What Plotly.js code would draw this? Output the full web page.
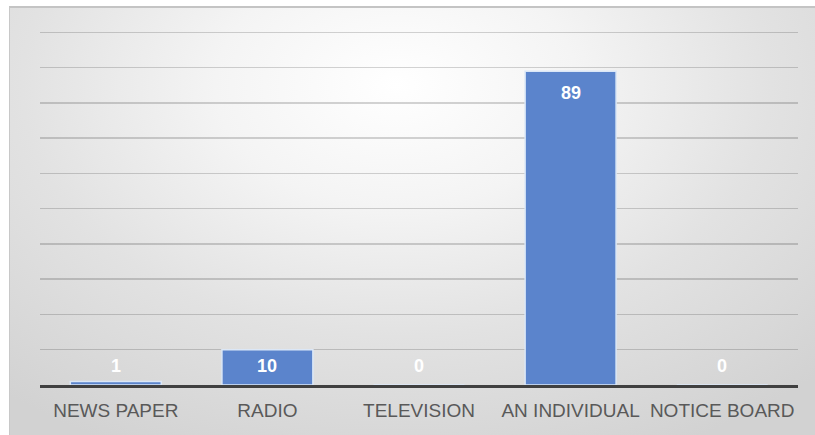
<!DOCTYPE html>
<html>
<head>
<meta charset="utf-8">
<script src="https://cdn.plot.ly/plotly-3.0.1.min.js"></script>
<style>
  html, body { margin: 0; padding: 0; background: #ffffff; }
  #frame {
    position: absolute; left: 0; top: 0; width: 815px; height: 435px;
    background: #ffffff;
  }
  #chart {
    position: absolute; left: 9px; top: 6px; width: 806px; height: 429px;
    background: radial-gradient(ellipse 75% 95% at 48% 18%, #ffffff 0%, #f4f4f4 30%, #e2e2e2 62%, #d2d2d2 100%);
    border-top: 2px solid #c4c4c4;
    border-left: 1px solid #c8c8c8;
    box-sizing: border-box;
    overflow: hidden;
  }
</style>
</head>
<body>
<div id="frame"><div id="chart"></div></div>
<script>
// Sources of information, counts per source
const categories = ['NEWS PAPER', 'RADIO', 'TELEVISION', 'AN INDIVIDUAL', 'NOTICE BOARD'];
const counts = [1, 10, 0, 89, 0];

const barTrace = {
  type: 'bar',
  x: categories,
  y: counts,
  marker: { color: '#5b84cc', line: { color: '#dbe7f7', width: 1.5 } },
  hoverinfo: 'x+y'
};

// Value labels sit just inside the top of each bar, kept above the axis for short bars
const labels = categories.map((c, i) => ({
  x: c,
  y: Math.max(counts[i], 11.5),
  xref: 'x', yref: 'y',
  text: '<b>' + counts[i] + '</b>',
  showarrow: false,
  yanchor: 'middle',
  yshift: -22,
  font: { family: 'Liberation Sans, Arial, sans-serif', size: 18, color: '#ffffff' }
}));

const layout = {
  width: 805,
  height: 427,
  margin: { l: 30, r: 17, t: 23, b: 50 },
  paper_bgcolor: 'rgba(0,0,0,0)',
  plot_bgcolor: 'rgba(0,0,0,0)',
  bargap: 0.4,
  showlegend: false,
  xaxis: {
    showgrid: false,
    showline: true,
    linecolor: '#404040',
    linewidth: 3,
    ticks: '',
    ticklabelstandoff: 6,
    tickfont: { family: 'Liberation Sans, Arial, sans-serif', size: 19, color: '#595959' },
    fixedrange: true
  },
  yaxis: {
    range: [0, 100.4],
    dtick: 10,
    showgrid: true,
    gridcolor: 'rgba(0,0,0,0.17)',
    gridwidth: 1.5,
    zeroline: false,
    showticklabels: false,
    ticks: '',
    fixedrange: true
  },
  annotations: labels
};

Plotly.newPlot('chart', [barTrace], layout, { displayModeBar: false, staticPlot: true });
</script>
</body>
</html>
